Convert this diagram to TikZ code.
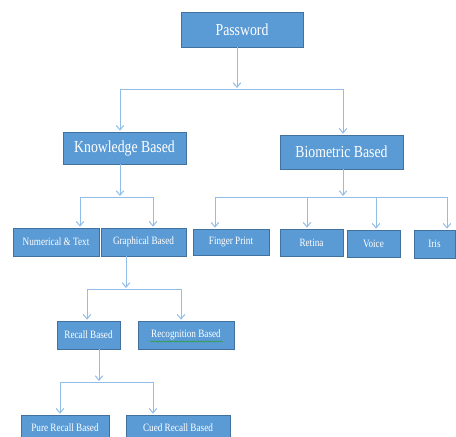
\documentclass[tikz,border=0pt]{standalone}
\usepackage{fontspec}
\setmainfont{Liberation Serif}
\newfontfamily\boxfont[FakeStretch=0.82]{Liberation Serif}
\usetikzlibrary{arrows.meta,decorations.pathmorphing,calc}
\definecolor{boxfill}{HTML}{5B9BD5}
\definecolor{boxedge}{HTML}{41719C}
\definecolor{linkcol}{HTML}{92BDE8}
\definecolor{squiggle}{HTML}{2E9E3E}
\tikzset{
  bigbox/.style={draw=boxedge, line width=0.6pt, fill=boxfill, text=white, inner sep=0pt,
    font=\boxfont\fontsize{16.8}{18}\selectfont},
  smallbox/.style={draw=boxedge, line width=0.6pt, fill=boxfill, text=white, inner sep=0pt,
    font=\boxfont\fontsize{11.2}{13}\selectfont},
  ln/.style={draw=linkcol, line width=1pt},
  arr/.style={ln, -{Straight Barb[length=4.5pt,width=7.5pt]}, shorten >=1pt},
}
\begin{document}
\begin{tikzpicture}[x=1pt,y=-1pt]
\useasboundingbox (0,0) rectangle (456,437);
\begin{scope}
\clip (0,0) rectangle (456,437);
% boxes
\node[bigbox, minimum width=122pt, minimum height=35pt] (pw) at (242,29.5) {Password};
\node[bigbox, minimum width=123pt, minimum height=32pt] (kb) at (124.5,148) {Knowledge Based};
\node[bigbox, minimum width=123pt, minimum height=34pt] (bb) at (341.5,152) {Biometric Based};
\node[smallbox, minimum width=86pt, minimum height=28pt] (nt) at (56,242) {Numerical \& Text};
\node[smallbox, minimum width=85pt, minimum height=28pt] (gb) at (143.5,242) {Graphical Based};
\node[smallbox, minimum width=76pt, minimum height=26pt] (fp) at (231,242) {Finger Print};
\node[smallbox, minimum width=63pt, minimum height=27pt] (re) at (311.5,242.5) {Retina};
\node[smallbox, minimum width=53pt, minimum height=27pt] (vo) at (373.5,243.5) {Voice};
\node[smallbox, minimum width=41pt, minimum height=28pt] (ir) at (434.5,244) {Iris};
\node[smallbox, minimum width=63pt, minimum height=28pt] (rb) at (88.5,335) {Recall Based};
\node[smallbox, minimum width=96pt, minimum height=28pt] (rg) at (186,335) {Recognition Based};
\node[smallbox, minimum width=88pt, minimum height=25pt] (pr) at (65,427.5) {Pure Recall Based};
\node[smallbox, minimum width=104pt, minimum height=25pt] (cr) at (178,427.5) {Cued Recall Based};
\draw[squiggle, line width=0.5pt, decorate, decoration={snake, amplitude=0.6pt, segment length=2.2pt}]
  ($(rg.center)+(-36,6.5)$) -- ($(rg.center)+(37,6.5)$);
\end{scope}
% junctions
\coordinate (j1) at (237,89);   \coordinate (j1a) at (120,89);  \coordinate (j1b) at (343,89);
\coordinate (j2) at (120,197);  \coordinate (j2a) at (80,197);  \coordinate (j2b) at (153,197);
\coordinate (j3) at (343,197);  \coordinate (j3a) at (215,197); \coordinate (j3b) at (307,197);
\coordinate (j3c) at (376,197); \coordinate (j3d) at (447,197);
\coordinate (j4) at (126,289);  \coordinate (j4a) at (87,289);  \coordinate (j4b) at (181,289);
\coordinate (j5) at (99,382);   \coordinate (j5a) at (60,382);  \coordinate (j5b) at (153,382);
% group 1
\draw[arr] (j1 |- pw.south) -- (j1);
\draw[ln] (j1a) -- (j1b);
\draw[arr] (j1a) -- (j1a |- kb.north);
\draw[arr] (j1b) -- (j1b |- bb.north);
% group 2
\draw[arr] (j2 |- kb.south) -- (j2);
\draw[ln] (j2a) -- (j2b);
\draw[arr] (j2a) -- (j2a |- nt.north);
\draw[arr] (j2b) -- (j2b |- gb.north);
% group 3
\draw[arr] (j3 |- bb.south) -- (j3);
\draw[ln] (j3a) -- (j3d);
\draw[arr] (j3a) -- (j3a |- fp.north);
\draw[arr] (j3b) -- (j3b |- re.north);
\draw[arr] (j3c) -- (j3c |- vo.north);
\draw[arr] (j3d) -- (j3d |- ir.north);
% group 4
\draw[arr] (j4 |- gb.south) -- (j4);
\draw[ln] (j4a) -- (j4b);
\draw[arr] (j4a) -- (j4a |- rb.north);
\draw[arr] (j4b) -- (j4b |- rg.north);
% group 5
\draw[arr] (j5 |- rb.south) -- (j5);
\draw[ln] (j5a) -- (j5b);
\draw[arr] (j5a) -- (j5a |- pr.north);
\draw[arr] (j5b) -- (j5b |- cr.north);
\end{tikzpicture}
\end{document}
